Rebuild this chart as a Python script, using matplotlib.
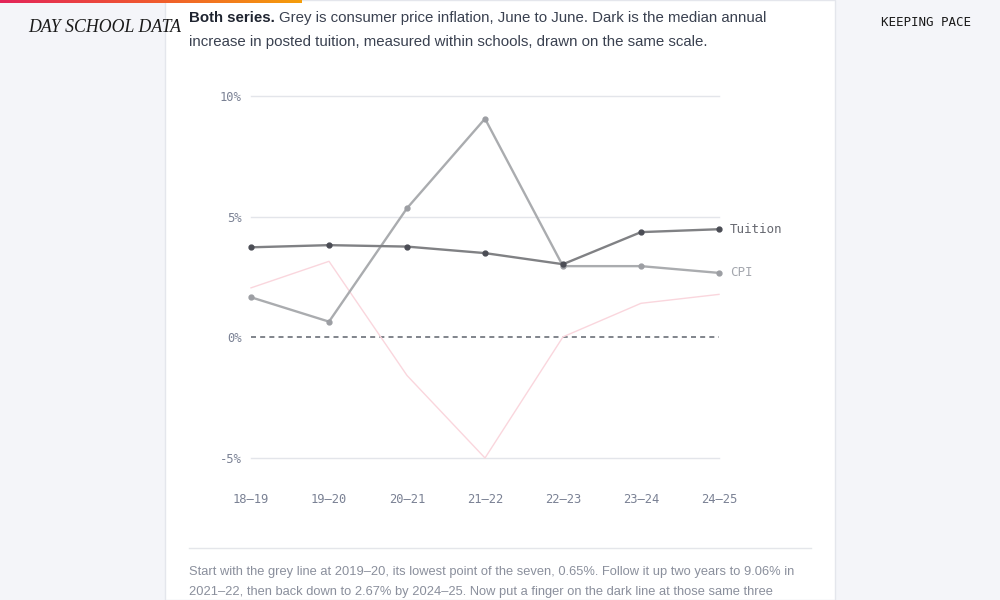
#!/usr/bin/env python3
# -*- coding: utf-8 -*-

import numpy as np
import matplotlib
matplotlib.use("Agg")
import matplotlib.pyplot as plt
from matplotlib.colors import LinearSegmentedColormap
from matplotlib.patches import Rectangle

#%% Data
years = ["18–19", "19–20", "20–21", "21–22", "22–23", "23–24", "24–25"]
cpi = [1.66, 0.65, 5.35, 9.06, 2.95, 2.95, 2.67]
tuition = [3.73, 3.82, 3.76, 3.49, 3.03, 4.36, 4.48]
gap = [2.05, 3.15, -1.58, -5.0, 0.02, 1.41, 1.78]
yticks = [-5, 0, 5, 10]

W, H = 1000, 600
BG = "#f4f5f9"
MONO = "DejaVu Sans Mono"
SANS = "Liberation Sans"


def fx(px):
    return px / W


def fy(py):
    return 1 - py / H


#%% Figure and page furniture
fig = plt.figure(figsize=(10, 6), dpi=100, facecolor=BG)
fig.patches.append(Rectangle((fx(165), 0), fx(670), 1, transform=fig.transFigure,
                             facecolor="white", edgecolor="#e4e6ec", lw=1, zorder=-5))

# gradient bar at the top
gax = fig.add_axes([0, fy(3), fx(302), 3 / H], zorder=5)
cmap = LinearSegmentedColormap.from_list("bar", ["#e3245a", "#f0592f", "#f59e0b"])
gax.imshow(np.linspace(0, 1, 256)[None, :], aspect="auto", cmap=cmap)
gax.axis("off")

fig.text(fx(28), fy(27), "DAY SCHOOL DATA", family="Liberation Serif", style="italic",
         fontsize=12.8, color="#1a1a1a", va="center")
fig.text(fx(926), fy(22), "KEEPING PACE", family=MONO, fontsize=9, color="#1a1a1a",
         va="center", ha="center")

# intro text, bold lead-in then regular
renderer = fig.canvas.get_renderer()
t = fig.text(fx(189), fy(18), "Both series.", family=SANS, weight="bold", fontsize=10.8,
             color="#1f2430", va="center")
bb = t.get_window_extent(renderer)
fig.text(bb.x1 / W + fx(4), fy(18), "Grey is consumer price inflation, June to June. Dark is the median annual",
         family=SANS, fontsize=10.8, color="#3a4150", va="center")
fig.text(fx(189), fy(42), "increase in posted tuition, measured within schools, drawn on the same scale.",
         family=SANS, fontsize=10.8, color="#3a4150", va="center")

#%% Chart
ax = fig.add_axes([fx(251), fy(458), fx(719 - 251), (458 - 96) / H], zorder=2)
ax.set_facecolor("none")
x = np.arange(len(years))

for v in yticks:
    if v == 0:
        ax.axhline(v, color="#6b6f78", lw=1.2, ls=(0, (3, 2.5)), zorder=1, clip_on=False)
    else:
        ax.axhline(v, color="#e3e5ea", lw=1, zorder=1, clip_on=False)

ax.plot(x, gap, color="#fad6dd", lw=1, zorder=2, clip_on=False)
ax.plot(x, cpi, color="#aaacaf", lw=1.7, marker="o", ms=3.5, mfc="#9c9ea3", mec="#9c9ea3",
        zorder=3, clip_on=False)
ax.plot(x, tuition, color="#808184", lw=1.7, marker="o", ms=3.5, mfc="#4b4d55", mec="#4b4d55",
        zorder=4, clip_on=False)

ax.text(x[-1] + 0.14, tuition[-1], "Tuition", family=MONO, fontsize=9, color="#666870",
        va="center", ha="left")
ax.text(x[-1] + 0.14, cpi[-1], "CPI", family=MONO, fontsize=9, color="#a3a6ad",
        va="center", ha="left")

ax.set_xlim(0, len(years) - 1)
ax.set_ylim(-5, 10)
ax.set_yticks(yticks)
ax.set_yticklabels(["{}%".format(v) for v in yticks])
ax.set_xticks(x)
ax.set_xticklabels(years)
ax.tick_params(length=0, labelsize=8.7, labelcolor="#7a8194")
ax.tick_params(axis="y", pad=7)
ax.tick_params(axis="x", pad=25)
for lab in ax.get_xticklabels() + ax.get_yticklabels():
    lab.set_family(MONO)
for s in ax.spines.values():
    s.set_visible(False)

#%% Footer note
fig.add_artist(plt.Line2D([fx(189), fx(811)], [fy(548), fy(548)], color="#e4e6ea", lw=1))
fig.text(fx(189), fy(572), "Start with the grey line at 2019–20, its lowest point of the seven, 0.65%. "
         "Follow it up two years to 9.06% in", family=SANS, fontsize=9.3, color="#8a8f9c", va="center")
fig.text(fx(189), fy(592), "2021–22, then back down to 2.67% by 2024–25. Now put a finger on the dark line "
         "at those same three", family=SANS, fontsize=9.3, color="#8a8f9c", va="center")

plt.savefig("out.png", dpi=100, facecolor=BG)
